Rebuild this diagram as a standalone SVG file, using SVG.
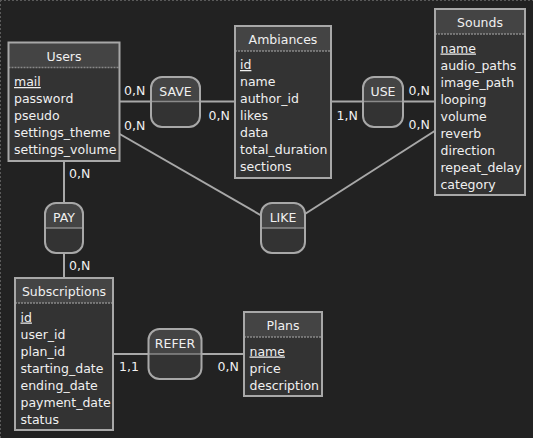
<svg xmlns="http://www.w3.org/2000/svg" width="533" height="438" viewBox="0 0 533 438">
<style>
text{font-family:"DejaVu Sans","Liberation Sans",sans-serif;font-size:12.5px;fill:#f0f0f0}
.t{text-anchor:middle}
.k{text-decoration:underline}
.body{fill:#333333}
.head{fill:#444444}
.out{fill:none;stroke:#a8a8a8;stroke-width:2}
.dash{stroke:#888;stroke-width:1.5;stroke-dasharray:2 1}
.div{stroke:#8a8a8a;stroke-width:1.5}
.conn line{stroke:#a8a8a8;stroke-width:2}
</style>
<rect x="0" y="0" width="533" height="438" fill="#222222"/>
<line x1="0.5" y1="0" x2="0.5" y2="438" stroke="#5a5a5a" stroke-dasharray="2 2"/>
<line x1="0" y1="0.5" x2="533" y2="0.5" stroke="#5a5a5a" stroke-dasharray="2 2"/>

<g id="connectors" class="conn">
<line x1="64" y1="101.5" x2="283" y2="101.5"/>
<line x1="283" y1="101.5" x2="480" y2="101.5"/>
<line x1="64" y1="102" x2="283" y2="228"/>
<line x1="283" y1="228" x2="480" y2="102"/>
<line x1="64" y1="102" x2="64" y2="354"/>
<line x1="64" y1="354" x2="283" y2="354"/>
</g>

<g id="labels">
<text x="124" y="94.5">0,N</text>
<text x="124" y="130">0,N</text>
<text x="208.5" y="119.5">0,N</text>
<text x="336.5" y="119.5">1,N</text>
<text x="408.5" y="94.5">0,N</text>
<text x="408.5" y="128.5">0,N</text>
<text x="69" y="177.5">0,N</text>
<text x="69" y="270">0,N</text>
<text x="119" y="371">1,1</text>
<text x="217.5" y="371">0,N</text>
</g>

<g id="Users">
<rect class="body" x="8.5" y="42.5" width="111" height="118.5"/>
<rect class="head" x="8.5" y="42.5" width="111" height="25"/>
<line class="dash" x1="8.5" y1="67.5" x2="119.5" y2="67.5"/>
<rect class="out" x="8.5" y="42.5" width="111" height="118.5"/>
<text class="t" x="64" y="61">Users</text>
<text class="k" x="14" y="86">mail</text>
<text x="14" y="103">password</text>
<text x="14" y="120">pseudo</text>
<text x="14" y="137">settings_theme</text>
<text x="14" y="154">settings_volume</text>
</g>

<g id="Ambiances">
<rect class="body" x="235" y="26" width="96" height="152"/>
<rect class="head" x="235" y="26" width="96" height="25"/>
<line class="dash" x1="235" y1="51" x2="331" y2="51"/>
<rect class="out" x="235" y="26" width="96" height="152"/>
<text class="t" x="283" y="44">Ambiances</text>
<text class="k" x="240" y="69">id</text>
<text x="240" y="86">name</text>
<text x="240" y="103">author_id</text>
<text x="240" y="120">likes</text>
<text x="240" y="137">data</text>
<text x="240" y="154">total_duration</text>
<text x="240" y="171">sections</text>
</g>

<g id="Sounds">
<rect class="body" x="435" y="9" width="90" height="186"/>
<rect class="head" x="435" y="9" width="90" height="25"/>
<line class="dash" x1="435" y1="34" x2="525" y2="34"/>
<rect class="out" x="435" y="9" width="90" height="186"/>
<text class="t" x="480" y="27">Sounds</text>
<text class="k" x="440.5" y="52.5">name</text>
<text x="440.5" y="69.5">audio_paths</text>
<text x="440.5" y="86.5">image_path</text>
<text x="440.5" y="103.5">looping</text>
<text x="440.5" y="120.5">volume</text>
<text x="440.5" y="137.5">reverb</text>
<text x="440.5" y="154.5">direction</text>
<text x="440.5" y="171.5">repeat_delay</text>
<text x="440.5" y="188.5">category</text>
</g>

<g id="Subscriptions">
<rect class="body" x="15" y="278" width="98" height="152"/>
<rect class="head" x="15" y="278" width="98" height="25"/>
<line class="dash" x1="15" y1="303" x2="113" y2="303"/>
<rect class="out" x="15" y="278" width="98" height="152"/>
<text class="t" x="64" y="296">Subscriptions</text>
<text class="k" x="20.5" y="321.5">id</text>
<text x="20.5" y="338.5">user_id</text>
<text x="20.5" y="355.5">plan_id</text>
<text x="20.5" y="372.5">starting_date</text>
<text x="20.5" y="389.5">ending_date</text>
<text x="20.5" y="406.5">payment_date</text>
<text x="20.5" y="423.5">status</text>
</g>

<g id="Plans">
<rect class="body" x="244" y="312" width="78" height="84"/>
<rect class="head" x="244" y="312" width="78" height="25"/>
<line class="dash" x1="244" y1="337" x2="322" y2="337"/>
<rect class="out" x="244" y="312" width="78" height="84"/>
<text class="t" x="283" y="330">Plans</text>
<text class="k" x="249.5" y="355.5">name</text>
<text x="249.5" y="372.5">price</text>
<text x="249.5" y="389.5">description</text>
</g>

<g id="SAVE">
<rect class="body" x="151" y="77" width="49" height="50" rx="11"/>
<path class="head" d="M151,101.5 V88 A11,11 0 0 1 162,77 H189 A11,11 0 0 1 200,88 V101.5 Z"/>
<line class="div" x1="151" y1="101.5" x2="200" y2="101.5"/>
<rect class="out" x="151" y="77" width="49" height="50" rx="11"/>
<text class="t" x="175.5" y="95.5">SAVE</text>
</g>

<g id="USE">
<rect class="body" x="363" y="77" width="40" height="50" rx="11"/>
<path class="head" d="M363,101.5 V88 A11,11 0 0 1 374,77 H392 A11,11 0 0 1 403,88 V101.5 Z"/>
<line class="div" x1="363" y1="101.5" x2="403" y2="101.5"/>
<rect class="out" x="363" y="77" width="40" height="50" rx="11"/>
<text class="t" x="383" y="95.5">USE</text>
</g>

<g id="LIKE">
<rect class="body" x="261" y="203" width="44" height="50" rx="11"/>
<path class="head" d="M261,228 V214 A11,11 0 0 1 272,203 H294 A11,11 0 0 1 305,214 V228 Z"/>
<line class="div" x1="261" y1="228" x2="305" y2="228"/>
<rect class="out" x="261" y="203" width="44" height="50" rx="11"/>
<text class="t" x="283" y="221.5">LIKE</text>
</g>

<g id="PAY">
<rect class="body" x="45" y="203" width="38" height="50" rx="11"/>
<path class="head" d="M45,228 V214 A11,11 0 0 1 56,203 H72 A11,11 0 0 1 83,214 V228 Z"/>
<line class="div" x1="45" y1="228" x2="83" y2="228"/>
<rect class="out" x="45" y="203" width="38" height="50" rx="11"/>
<text class="t" x="64" y="221.5">PAY</text>
</g>

<g id="REFER">
<rect class="body" x="148.5" y="329" width="53" height="50" rx="11"/>
<path class="head" d="M148.5,354 V340 A11,11 0 0 1 159.5,329 H190.5 A11,11 0 0 1 201.5,340 V354 Z"/>
<line class="div" x1="148.5" y1="354" x2="201.5" y2="354"/>
<rect class="out" x="148.5" y="329" width="53" height="50" rx="11"/>
<text class="t" x="175" y="347.5">REFER</text>
</g>
</svg>
